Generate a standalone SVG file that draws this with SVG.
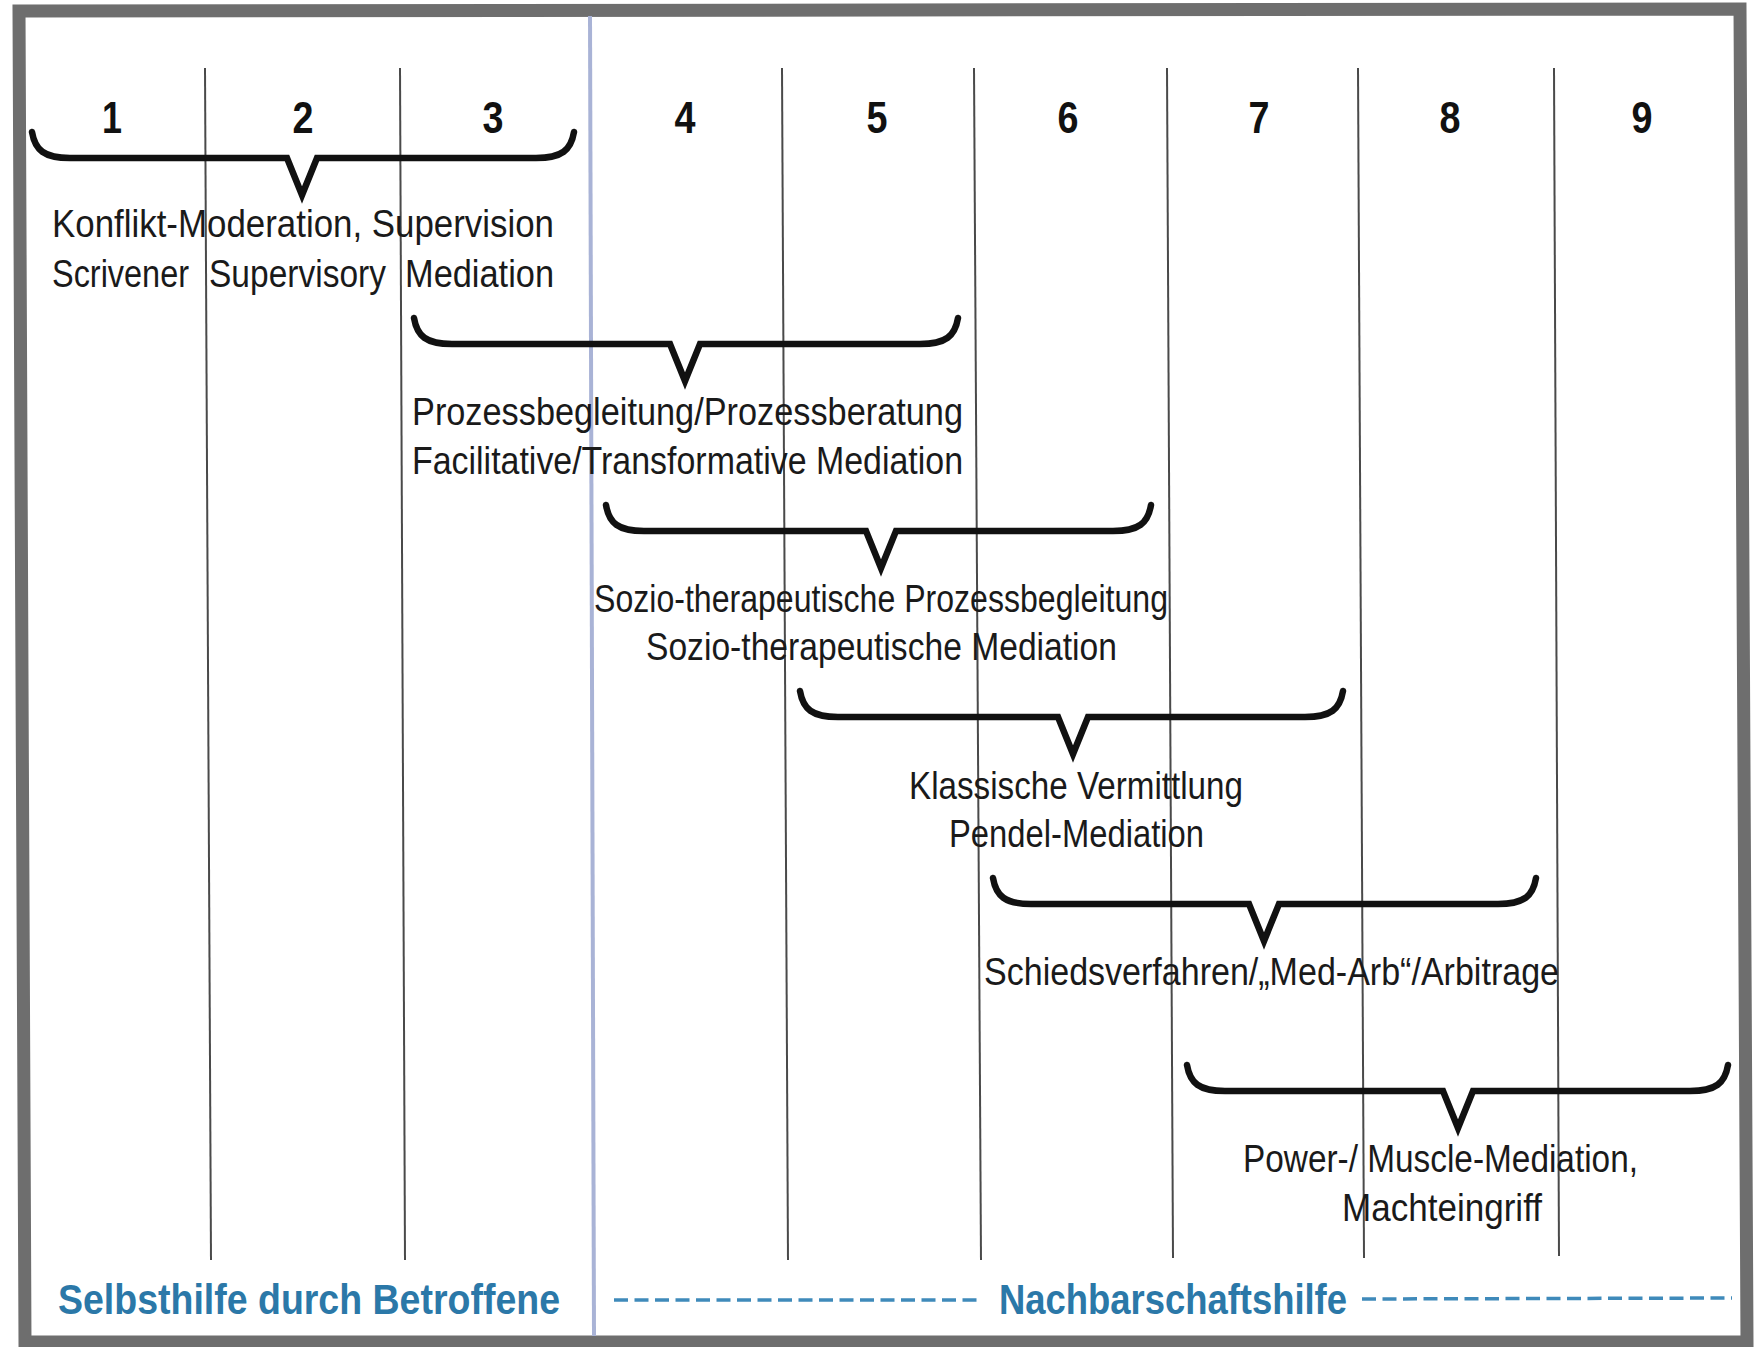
<svg xmlns="http://www.w3.org/2000/svg" width="1756" height="1347" viewBox="0 0 1756 1347">
  <style>
    .col { stroke: #4a4a4a; stroke-width: 2; fill: none; }
    .brace { stroke: #111; stroke-width: 6.5; fill: none; stroke-linejoin: miter; stroke-linecap: round; }
    .num { font-family: "Liberation Sans", Arial, sans-serif; font-weight: bold; font-size: 44px; fill: #111; text-anchor: middle; }
    .lbl { font-family: "Liberation Sans", Arial, sans-serif; font-size: 38px; fill: #1a1a1a; }
    .foot { font-family: "Liberation Sans", Arial, sans-serif; font-weight: bold; font-size: 42px; fill: #2b78a8; }
    .dash { stroke: #3f8aba; stroke-width: 3.5; stroke-dasharray: 14 6.5; fill: none; }
  </style>
  <rect x="0" y="0" width="1756" height="1347" fill="#ffffff"/>

  <!-- frame -->
  <path id="frame" d="M19,11 L1740,9 L1747,1342 L25,1342 Z" fill="none" stroke="#6e6e6e" stroke-width="13"/>

  <!-- connectors: column dividers -->
  <g id="connectors">
    <line class="col" x1="205" y1="68" x2="211" y2="1260"/>
    <line class="col" x1="400" y1="68" x2="405" y2="1260"/>
    <line id="divider" x1="590" y1="16" x2="594" y2="1336" stroke="#a9b3d6" stroke-width="4"/>
    <line class="col" x1="782" y1="68" x2="788" y2="1260"/>
    <line class="col" x1="974" y1="68" x2="981" y2="1260"/>
    <line class="col" x1="1167" y1="68" x2="1173" y2="1258"/>
    <line class="col" x1="1358" y1="68" x2="1364" y2="1258"/>
    <line class="col" x1="1554" y1="68" x2="1559" y2="1256"/>
  </g>

  <!-- stage numbers -->
  <g id="stage-1"><text class="num" x="112" y="133" textLength="20" lengthAdjust="spacingAndGlyphs">1</text></g>
  <g id="stage-2"><text class="num" x="303" y="133" textLength="21" lengthAdjust="spacingAndGlyphs">2</text></g>
  <g id="stage-3"><text class="num" x="493" y="133" textLength="21" lengthAdjust="spacingAndGlyphs">3</text></g>
  <g id="stage-4"><text class="num" x="685" y="133" textLength="21" lengthAdjust="spacingAndGlyphs">4</text></g>
  <g id="stage-5"><text class="num" x="877" y="133" textLength="21" lengthAdjust="spacingAndGlyphs">5</text></g>
  <g id="stage-6"><text class="num" x="1068" y="133" textLength="21" lengthAdjust="spacingAndGlyphs">6</text></g>
  <g id="stage-7"><text class="num" x="1259" y="133" textLength="21" lengthAdjust="spacingAndGlyphs">7</text></g>
  <g id="stage-8"><text class="num" x="1450" y="133" textLength="21" lengthAdjust="spacingAndGlyphs">8</text></g>
  <g id="stage-9"><text class="num" x="1642" y="133" textLength="21" lengthAdjust="spacingAndGlyphs">9</text></g>

  <!-- method 1 -->
  <g id="method-1">
    <path class="brace" d="M32,132 C35,150 44,158 70,158 L287,158 L302,195 L317,158 L536,158 C562,158 571,150 574,132"/>
    <text class="lbl" x="52" y="237" textLength="502" lengthAdjust="spacingAndGlyphs">Konflikt-Moderation, Supervision</text>
    <text class="lbl" x="52" y="287" textLength="137" lengthAdjust="spacingAndGlyphs">Scrivener</text>
    <text class="lbl" x="209" y="287" textLength="177" lengthAdjust="spacingAndGlyphs">Supervisory</text>
    <text class="lbl" x="405" y="287" textLength="149" lengthAdjust="spacingAndGlyphs">Mediation</text>
  </g>

  <!-- method 2 -->
  <g id="method-2">
    <path class="brace" d="M414,318 C417,336 426,344 452,344 L670,344 L685,381 L700,344 L920,344 C946,344 955,336 958,318"/>
    <text class="lbl" x="412" y="425" textLength="551" lengthAdjust="spacingAndGlyphs">Prozessbegleitung/Prozessberatung</text>
    <text class="lbl" x="412" y="474" textLength="551" lengthAdjust="spacingAndGlyphs">Facilitative/Transformative Mediation</text>
  </g>

  <!-- method 3 -->
  <g id="method-3">
    <path class="brace" d="M606,505 C609,523 618,531 644,531 L866,531 L881,568 L896,531 L1113,531 C1139,531 1148,523 1151,505"/>
    <text class="lbl" x="594" y="612" textLength="574" lengthAdjust="spacingAndGlyphs">Sozio-therapeutische Prozessbegleitung</text>
    <text class="lbl" x="646" y="660" textLength="471" lengthAdjust="spacingAndGlyphs">Sozio-therapeutische Mediation</text>
  </g>

  <!-- method 4 -->
  <g id="method-4">
    <path class="brace" d="M800,691 C803,709 812,717 838,717 L1058,717 L1073,754 L1088,717 L1305,717 C1331,717 1340,709 1343,691"/>
    <text class="lbl" x="909" y="799" textLength="334" lengthAdjust="spacingAndGlyphs">Klassische Vermittlung</text>
    <text class="lbl" x="949" y="847" textLength="255" lengthAdjust="spacingAndGlyphs">Pendel-Mediation</text>
  </g>

  <!-- method 5 -->
  <g id="method-5">
    <path class="brace" d="M993,878 C996,896 1005,904 1031,904 L1249,904 L1264,941 L1279,904 L1498,904 C1524,904 1533,896 1536,878"/>
    <text class="lbl" x="984" y="985" textLength="575" lengthAdjust="spacingAndGlyphs">Schiedsverfahren/„Med-Arb“/Arbitrage</text>
  </g>

  <!-- method 6 -->
  <g id="method-6">
    <path class="brace" d="M1187,1065 C1190,1083 1199,1091 1225,1091 L1443,1091 L1458,1128 L1473,1091 L1690,1091 C1716,1091 1725,1083 1728,1065"/>
    <text class="lbl" x="1243" y="1172" textLength="395" lengthAdjust="spacingAndGlyphs">Power-/ Muscle-Mediation,</text>
    <text class="lbl" x="1342" y="1221" textLength="200" lengthAdjust="spacingAndGlyphs">Machteingriff</text>
  </g>

  <!-- footer -->
  <g id="footer-self">
    <text class="foot" x="58" y="1314" textLength="502" lengthAdjust="spacingAndGlyphs">Selbsthilfe durch Betroffene</text>
  </g>
  <g id="footer-neighbour">
    <line class="dash" x1="614" y1="1300" x2="983" y2="1300"/>
    <text class="foot" x="999" y="1314" textLength="348" lengthAdjust="spacingAndGlyphs">Nachbarschaftshilfe</text>
    <line class="dash" x1="1362" y1="1299" x2="1732" y2="1298"/>
  </g>
</svg>
